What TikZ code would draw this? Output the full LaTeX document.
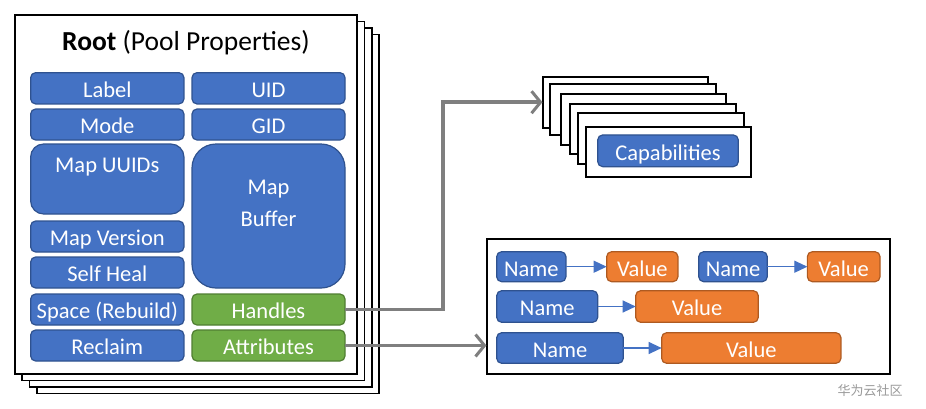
\documentclass[tikz,border=0pt]{standalone}
\usepackage{fontspec}
\setmainfont{Carlito}
\newfontfamily\cjk{Noto Sans CJK SC}
\usetikzlibrary{arrows.meta}
\definecolor{boxblue}{HTML}{4472C4}
\definecolor{boxblueedge}{HTML}{2F528F}
\definecolor{boxgreen}{HTML}{70AD47}
\definecolor{boxgreenedge}{HTML}{507E32}
\definecolor{boxorange}{HTML}{ED7D31}
\definecolor{boxorangeedge}{HTML}{AE5A21}
\definecolor{linkgray}{HTML}{7F7F7F}
\tikzset{
  field/.style={draw=boxblueedge, fill=boxblue, line width=1.2pt, rounded corners=5pt,
    text=white, inner sep=0pt, outer sep=0pt, text height=22pt, text depth=3.2pt,
    font=\fontsize{22.5}{26}\selectfont},
  greenfield/.style={field, draw=boxgreenedge, fill=boxgreen},
  valfield/.style={field, draw=boxorangeedge, fill=boxorange},
  fieldtext/.style={text=white, inner sep=0pt, text height=22pt, text depth=3.2pt,
    font=\fontsize{22.5}{26}\selectfont},
  sheet/.style={draw=black, fill=white, line width=1.8pt},
  link/.style={draw=linkgray, line width=3.5pt, -{Straight Barb[length=9pt,width=22pt,line width=3pt]}},
  kvlink/.style={draw=boxblue, line width=1.2pt, -{Triangle[length=13pt,width=12pt]}}
}
\begin{document}
\begin{tikzpicture}[x=1pt,y=-1pt]
\useasboundingbox (0,0) rectangle (926,408);

% stacked pool-property sheets, back to front
\foreach \k in {3,2,1} {
  \draw[sheet] (14.7+7.4*\k,15+6.5*\k) rectangle (357+7.4*\k,374+6.5*\k);
}
\draw[sheet] (14.7,15) rectangle (357,374);
\node[inner sep=0pt, font=\fontsize{27.5}{32}\selectfont] (title) at (186,43) {\textbf{Root} (Pool Properties)};

% left column
\node[field, minimum width=153.3pt, minimum height=31.3pt] (label) at (107.3,88.3) {Label};
\node[field, minimum width=153.3pt, minimum height=31pt] (mode) at (107.3,124.5) {Mode};
\node[field, rounded corners=13pt, minimum width=153.3pt, minimum height=70pt] (mapuuids) at (107.3,179) {};
\node[fieldtext] (mapuuidstext) at (107.3,162.7) {Map UUIDs};
\node[field, minimum width=153.3pt, minimum height=31pt] (mapversion) at (107.3,236.5) {Map Version};
\node[field, minimum width=153.3pt, minimum height=31pt] (selfheal) at (107.3,272.5) {Self Heal};
\node[field, minimum width=153.3pt, minimum height=31pt] (space) at (107.3,309.5) {Space (Rebuild)};
\node[field, minimum width=153.3pt, minimum height=31pt] (reclaim) at (107.3,345.5) {Reclaim};

% right column
\node[field, minimum width=153pt, minimum height=31.3pt] (uid) at (268.5,88.3) {UID};
\node[field, minimum width=153pt, minimum height=31pt] (gid) at (268.5,124.5) {GID};
\node[field, rounded corners=24pt, minimum width=153pt, minimum height=144pt] (mapbuffer) at (268.5,216) {};
\node[fieldtext] (mapbuffertexta) at (268.5,184.6) {Map};
\node[fieldtext] (mapbuffertextb) at (268.5,217.3) {Buffer};
\node[greenfield, minimum width=153pt, minimum height=31pt] (handles) at (268.5,309.5) {Handles};
\node[greenfield, minimum width=153pt, minimum height=31pt] (attributes) at (268.5,345.5) {Attributes};

% stacked capability sheets, back to front
\draw[sheet] (542.7,76.7) rectangle (708.3,127.7);
\node[inner sep=0pt, minimum width=165.6pt, minimum height=51pt] (cap1) at (625.5,102.2) {};
\draw[sheet] (550,84.3) rectangle (716,135);
\draw[sheet] (560.7,94.3) rectangle (726,145);
\draw[sheet] (570,104) rectangle (736,154.3);
\draw[sheet] (578.3,113.3) rectangle (744,164.3);
\draw[sheet] (586,126.7) rectangle (751,176.7);
\node[field, minimum width=140.6pt, minimum height=31.7pt] (capabilities) at (668,150.8) {Capabilities};

% attribute name/value container
\draw[sheet] (486.7,239) rectangle (890,374);
\node[inner sep=0pt, minimum width=403.3pt, minimum height=135pt] (kv) at (688.3,306.5) {};

\node[field, minimum width=69.3pt, minimum height=30pt] (n1) at (531.3,266.7) {Name};
\node[valfield, minimum width=71.3pt, minimum height=30pt] (v1) at (642.3,266.7) {Value};
\node[field, minimum width=68.6pt, minimum height=30pt] (n2) at (733,266.7) {Name};
\node[valfield, minimum width=72.7pt, minimum height=30pt] (v2) at (843.7,266.7) {Value};
\node[field, minimum width=101pt, minimum height=31.6pt] (n3) at (547.2,306.5) {Name};
\node[valfield, minimum width=122.6pt, minimum height=31.6pt] (v3) at (697,306.5) {Value};
\node[field, minimum width=126.6pt, minimum height=30.6pt] (n4) at (560,348) {Name};
\node[valfield, minimum width=179.3pt, minimum height=30.6pt] (v4) at (751.3,348) {Value};

\draw[kvlink] (n1.east) -- (v1.west);
\draw[kvlink] (n2.east) -- (v2.west);
\draw[kvlink] (n3.east) -- (v3.west);
\draw[kvlink] (n4.east) -- (v4.west);

% links out of the root
\draw[link] (handles.east) -- ++(98,0) |- (cap1.west);
\draw[link] (attributes.east) -- (attributes.east -| kv.west);

\node[inner sep=0pt, text=black!40, font=\cjk\fontsize{13}{15}\selectfont] (mark) at (870,391) {华为云社区};
\end{tikzpicture}
\end{document}
